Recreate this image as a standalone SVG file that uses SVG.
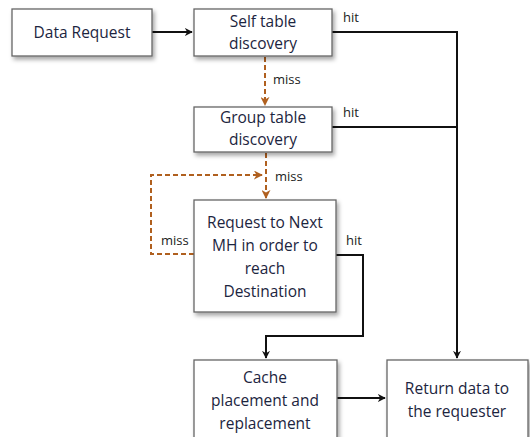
<svg xmlns="http://www.w3.org/2000/svg" width="530" height="437" viewBox="0 0 530 437">
<defs>
<filter id="sh" x="-10%" y="-10%" width="130%" height="140%">
<feDropShadow dx="2" dy="3" stdDeviation="2" flood-color="#000" flood-opacity="0.35"/>
</filter>
<marker id="ab" viewBox="0 0 10 10" refX="9" refY="5" markerWidth="8" markerHeight="8" markerUnits="userSpaceOnUse" orient="auto">
<path d="M0,0 L10,5 L0,10 L3,5 Z" fill="#111"/>
</marker>
<marker id="ao" viewBox="0 0 10 10" refX="9" refY="5" markerWidth="9" markerHeight="9" markerUnits="userSpaceOnUse" orient="auto">
<path d="M0,0 L10,5 L0,10 L3,5 Z" fill="#b0601f"/>
</marker>
<style>
.box{fill:#fff;stroke:#666;stroke-width:1.3;filter:url(#sh)}
.t{font-family:"Open Sans","Noto Sans",sans-serif;font-size:15.5px;fill:#1c2540;text-anchor:middle}
.l{font-family:"Open Sans","Noto Sans",sans-serif;font-size:13px;fill:#222}
.s{fill:none;stroke:#111;stroke-width:2}
.d{fill:none;stroke:#b0601f;stroke-width:2;stroke-dasharray:5,3}
</style>
</defs>
<g id="connectors">
<path class="s" d="M152,32 H192" marker-end="url(#ab)"/>
<path class="s" d="M332,32 H457 V358" marker-end="url(#ab)"/>
<path class="s" d="M332,127 H457"/>
<path class="d" d="M265,57 V105" marker-end="url(#ao)"/>
<path class="d" d="M266,153 V198" marker-end="url(#ao)"/>
<path class="d" d="M194,254 H151 V175 H262" marker-end="url(#ao)"/>
<path class="s" d="M336,255 H363 V336 H266 V358" marker-end="url(#ab)"/>
<path class="s" d="M337,398 H385" marker-end="url(#ab)"/>
<text class="l" x="343" y="22">hit</text>
<text class="l" x="343" y="117">hit</text>
<text class="l" x="346" y="245">hit</text>
<text class="l" x="273" y="84">miss</text>
<text class="l" x="275" y="181">miss</text>
<text class="l" x="161" y="245">miss</text>
</g>
<g id="data-request">
<rect class="box" x="12" y="9" width="140" height="47"/>
<text class="t" x="82" y="38">Data Request</text>
</g>
<g id="self-table">
<rect class="box" x="194" y="9" width="138" height="47"/>
<text class="t" x="263" y="27">Self table</text>
<text class="t" x="263" y="49">discovery</text>
</g>
<g id="group-table">
<rect class="box" x="194" y="107" width="138" height="45"/>
<text class="t" x="263" y="123">Group table</text>
<text class="t" x="263" y="145">discovery</text>
</g>
<g id="request-next">
<rect class="box" x="194" y="200" width="142" height="112"/>
<text class="t" x="265" y="228">Request to Next</text>
<text class="t" x="265" y="251">MH in order to</text>
<text class="t" x="265" y="274">reach</text>
<text class="t" x="265" y="297">Destination</text>
</g>
<g id="cache">
<rect class="box" x="194" y="360" width="143" height="82"/>
<text class="t" x="265" y="383">Cache</text>
<text class="t" x="265" y="406">placement and</text>
<text class="t" x="265" y="429">replacement</text>
</g>
<g id="return">
<rect class="box" x="387" y="360" width="141" height="82"/>
<text class="t" x="457" y="394">Return data to</text>
<text class="t" x="457" y="417">the requester</text>
</g>
</svg>
